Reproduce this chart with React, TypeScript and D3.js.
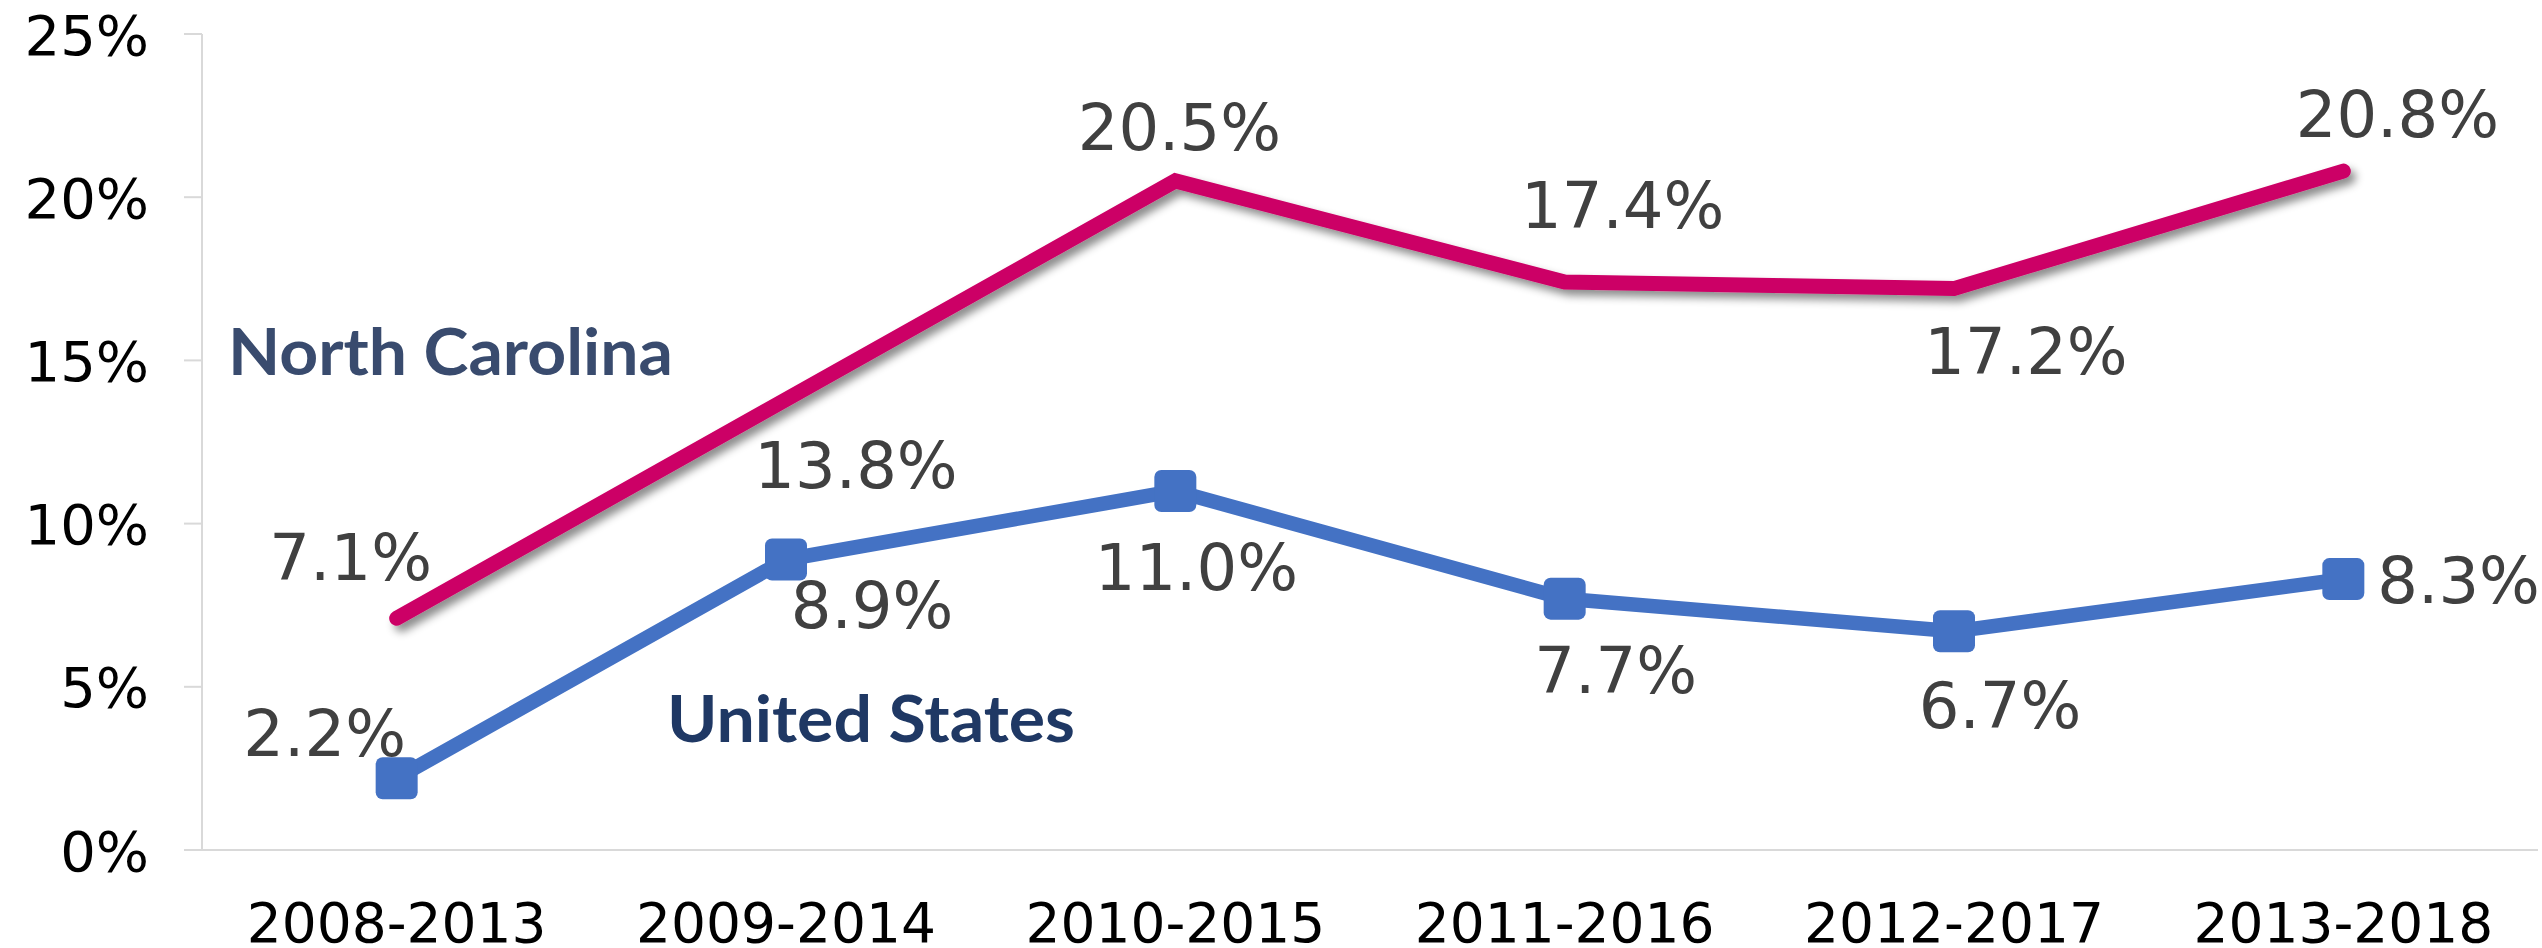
import React from "react";
import * as d3 from "d3";

const categories = ["2008-2013", "2009-2014", "2010-2015", "2011-2016", "2012-2017", "2013-2018"];
const northCarolina = [7.1, 13.8, 20.5, 17.4, 17.2, 20.8];
const unitedStates = [2.2, 8.9, 11.0, 7.7, 6.7, 8.3];
const yTicks = [0, 5, 10, 15, 20, 25];
const seriesNames = ["North Carolina", "United States"];

// label placement offsets (layout only): [dx, dy, anchor]
const ncLabelOffsets: [number, number, string][] = [
  [-46, -38, "middle"], [70, 88, "middle"], [4, -31, "middle"],
  [58, -54, "middle"], [72, 85, "middle"], [54, -34, "middle"],
];
const usLabelOffsets: [number, number, string][] = [
  [-72, -22, "middle"], [86, 68, "middle"], [21, 99, "middle"],
  [51, 94, "middle"], [46, 97, "middle"], [34, 24, "start"],
];

const W = 2542;
const H = 948;
const left = 202;
const right = 2538;
const top = 34;
const bottom = 850;

export default function App() {
  const x = d3.scalePoint<string>().domain(categories).range([left, right]).padding(0.5);
  const y = d3.scaleLinear().domain([0, 25]).range([bottom, top]);
  const line = d3.line<number>().x((_, i) => x(categories[i])!).y((d) => y(d));
  const font = "'DejaVu Sans', sans-serif";
  const ms = 42;

  return (
    <svg width={W} height={H} style={{ position: "absolute", left: 0, top: 0, background: "#fff" }}>
      <defs>
        <filter id="shadow" x="-10%" y="-20%" width="130%" height="150%">
          <feDropShadow dx="5" dy="6" stdDeviation="4" floodColor="#000" floodOpacity="0.45" />
        </filter>
      </defs>
      {/* axes */}
      <line x1={left} x2={left} y1={y(25)} y2={y(0)} stroke="#d9d9d9" strokeWidth={2} />
      <line x1={184} x2={right} y1={y(0)} y2={y(0)} stroke="#d9d9d9" strokeWidth={2} />
      {yTicks.map((t) => (
        <g key={t}>
          <line x1={184} x2={left} y1={y(t)} y2={y(t)} stroke="#d9d9d9" strokeWidth={2} />
          <text x={149} y={y(t) + 20.5} textAnchor="end" fontFamily={font} fontSize={56} fill="#000">
            {t}%
          </text>
        </g>
      ))}
      {categories.map((c) => (
        <text key={c} x={x(c)} y={y(0) + 92} textAnchor="middle" fontFamily={font} fontSize={55} fill="#000">
          {c}
        </text>
      ))}
      {/* NC line */}
      <path d={line(northCarolina)!} fill="none" stroke="#CC0066" strokeWidth={15}
        strokeLinecap="round" strokeLinejoin="miter" filter="url(#shadow)" />
      {/* US line */}
      <path d={line(unitedStates)!} fill="none" stroke="#4472C4" strokeWidth={14.5}
        strokeLinejoin="round" />
      {unitedStates.map((v, i) => (
        <rect key={i} x={x(categories[i])! - ms / 2} y={y(v) - ms / 2} width={ms} height={ms}
          rx={7} fill="#4472C4" />
      ))}
      {/* data labels */}
      {northCarolina.map((v, i) => (
        <text key={"nc" + i} x={x(categories[i])! + ncLabelOffsets[i][0]} y={y(v) + ncLabelOffsets[i][1]}
          textAnchor={ncLabelOffsets[i][2] as any} fontFamily={font} fontSize={64} fill="#404040">
          {v.toFixed(1)}%
        </text>
      ))}
      {unitedStates.map((v, i) => (
        <text key={"us" + i} x={x(categories[i])! + usLabelOffsets[i][0]} y={y(v) + usLabelOffsets[i][1]}
          textAnchor={usLabelOffsets[i][2] as any} fontFamily={font} fontSize={64} fill="#404040">
          {v.toFixed(1)}%
        </text>
      ))}
      {/* series labels */}
      <text x={228} y={375} fontFamily="Lato, 'Open Sans', sans-serif" fontWeight="bold" fontSize={65}
        fill="#394B6E" textLength={445} lengthAdjust="spacingAndGlyphs">
        {seriesNames[0]}
      </text>
      <text x={667} y={742} fontFamily="Lato, 'Open Sans', sans-serif" fontWeight="bold" fontSize={65}
        fill="#1F3864" textLength={408} lengthAdjust="spacingAndGlyphs">
        {seriesNames[1]}
      </text>
    </svg>
  );
}
